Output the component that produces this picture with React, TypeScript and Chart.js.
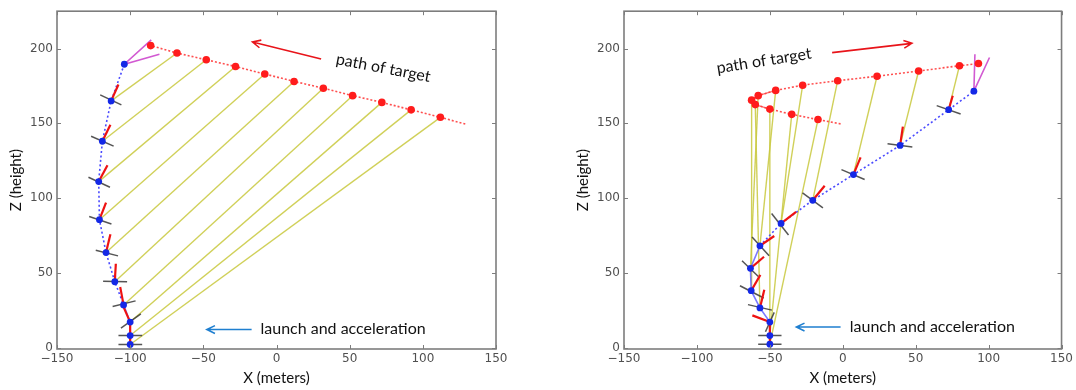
import React, { useEffect, useRef } from "react";
import { Chart, registerables } from "chart.js";
Chart.register(...registerables);

// ---------- shared axes ----------
const X_TICKS = [-150, -100, -50, 0, 50, 100, 150];
const X_TICK_LABELS = ["\u2212150", "\u2212100", "\u221250", "0", "50", "100", "150"];
const Z_TICKS = [0, 50, 100, 150, 200];
const Z_TICK_LABELS = ["0", "50", "100", "150", "200"];
const X_TITLE = "X (meters)";
const Z_TITLE = "Z (height)";

// ---------- left panel ----------
const L_TARGET_X = [-86, -68, -48, -28, -8, 12, 32, 52, 72, 92, 112];
const L_TARGET_Z = [202, 197, 192.5, 188, 183, 178, 173.5, 168.5, 164, 159, 154];
const L_PATH_TAIL_X = [129];
const L_PATH_TAIL_Z = [149.5];
const L_DRONE_X = [-104, -113, -119, -121.5, -121, -116.5, -110.5, -104.5, -100, -100, -100];
const L_DRONE_Z = [189.5, 165, 138, 111, 85.5, 63.5, 44, 28.5, 17, 8, 2];
const L_STICK_DX = [null, 5, 5.5, 6, 4.5, 3, 0.7, -2.3, -4.5, 0, 0];
const L_STICK_DZ = [null, 11, 11, 11, 11.5, 12.2, 12, 12, 10, 9, 6];
const L_BAR_A_DX = [null, -7.5, -7.7, -7, -7, -7, -8, -7.5, -6.3, -8, -8];
const L_BAR_A_DZ = [null, 4, 3.3, 2.9, 2.2, 1.6, 0.4, -1.1, -4, 0, 0];
const L_BAR_B_DX = [null, 7, 7.7, 7.7, 8.2, 8.2, 8.4, 8.2, 7.3, 8.2, 8.2];
const L_BAR_B_DZ = [null, -2.7, -3.3, -3.8, -2.9, -2.2, 0, 2.7, 5.5, 0, 0];
const L_DOTTED_DRONES = [0, 1, 2, 3, 4, 5, 6, 7];
const L_SOLID_DRONES = [7, 8, 9, 10];
const L_YELLOW_PAIRS = [1, 2, 3, 4, 5, 6, 7, 8, 9, 10];
const L_SOLID_TARGETS: number[] = [];
const L_MAGENTA_X = [-85.6, -104, -80];
const L_MAGENTA_Z = [205.8, 189.5, 196.2];

// ---------- right panel ----------
const R_TARGET_X = [-17, -35, -50, -60, -62.5, -58, -46, -27.5, -3.5, 23.5, 52, 80, 93];
const R_TARGET_Z = [152.5, 156, 159.5, 162.5, 165.5, 168.5, 172, 175.5, 178.5, 181.5, 185, 188.5, 190];
const R_PATH_TAIL_X = [-1.5];
const R_PATH_TAIL_Z = [149.6];
const R_DRONE_X = [-50, -50, -50, -56.8, -62.8, -63.3, -56.8, -42.3, -20.6, 7.3, 39.3, 72.6, 89.9];
const R_DRONE_Z = [2.2, 8, 17, 26.5, 38, 53, 68, 83, 98.5, 115.7, 135.2, 159.1, 171.5];
const R_STICK_DX = [0, 0, -12, 3, 6.3, 9.3, 9.8, 10.3, 8.2, 4.9, 1.9, 2.8, null];
const R_STICK_DZ = [6, 9, 4.5, 12.2, 10.6, 7.7, 6.6, 7.7, 9.7, 11.5, 12.6, 9.3, null];
const R_BAR_A_DX = [-8, -8, -3, -8.2, -7.7, -5.8, -5.4, -6.5, -7, -8.2, -8.6, -8.2, null];
const R_BAR_A_DZ = [0, 0, -6.5, 2.2, 3.3, 5.1, 6, 6.6, 4.9, 3.3, 1.1, 2.7, null];
const R_BAR_B_DX = [8, 8, 3, 8.2, 8.6, 5.4, 6.3, 5.1, 7, 7.7, 8.4, 8.2, null];
const R_BAR_B_DZ = [0, 0, 6.5, -1.5, -4.9, -5.5, -6.6, -7.7, -5.1, -3.3, -1.1, -2.9, null];
const R_SOLID_DRONES = [0, 1, 2, 3, 4, 5, 6];
const R_DOTTED_DRONES = [6, 7, 8, 9, 10, 11, 12];
const R_YELLOW_PAIRS = [0, 1, 2, 3, 4, 5, 6, 7, 8, 9, 10, 11];
const R_SOLID_TARGETS = [2, 3, 4, 5, 6];
const R_MAGENTA_X = [90.6, 89.9, 100.6];
const R_MAGENTA_Z = [196.2, 171.5, 194];

// ---------- annotations (data coordinates) ----------
const NOTE_PATH = "path of target";
const NOTE_LAUNCH = "launch and acceleration";
const L_NOTES = [
  { text: NOTE_PATH, x: 73, z: 187, rot: 11 },
  { text: NOTE_LAUNCH, x: 45.5, z: 12.2, rot: 0 },
];
const L_ARROWS = [
  { x1: 30.5, z1: 193, x2: -16.4, z2: 204.4, color: "#e8141a" },
  { x1: -17, z1: 12, x2: -47.6, z2: 12, color: "#1f7fd0" },
];
const R_NOTES = [
  { text: NOTE_PATH, x: -54, z: 191.8, rot: -9 },
  { text: NOTE_LAUNCH, x: 61.4, z: 13.7, rot: 0 },
];
const R_ARROWS = [
  { x1: -7.3, z1: 197.3, x2: 47.4, z2: 203.5, color: "#e8141a" },
  { x1: -1.5, z1: 13.7, x2: -31.8, z2: 13.7, color: "#1f7fd0" },
];

// ---------- styles ----------
const C_TARGET = "#ff1c1c";
const C_DRONE = "#1428e6";
const C_YELLOW = "rgba(200,200,60,0.85)";
const C_STICK = "#ee1212";
const C_BAR = "rgba(55,55,55,0.85)";
const C_MAGENTA = "#d25ad2";
const C_BLUE_LINE = "#4a4aff";
const C_RED_PATH = "rgba(255,60,60,0.9)";
const NOTE_FONT = "16px Lato";
const TICK_FONT_FAMILY = "DejaVu Sans";

const pt = (x: number, y: number) => ({ x, y });

function lineDs(data: any[], color: string, width: number, dash: number[], order: number) {
  return {
    data,
    showLine: true,
    borderColor: color,
    borderWidth: width,
    borderDash: dash,
    pointRadius: 0,
    pointHoverRadius: 0,
    fill: false,
    tension: 0,
    order,
  };
}

function pointDs(data: any[], color: string, r: number, order: number) {
  return {
    data,
    showLine: false,
    pointRadius: r,
    pointHoverRadius: r,
    backgroundColor: color,
    borderColor: color,
    borderWidth: 0,
    order,
  };
}

function buildDatasets(p: any) {
  const ds: any[] = [];
  // yellow sight lines
  p.yellow.forEach((i: number) => {
    ds.push(lineDs([pt(p.dx[i], p.dz[i]), pt(p.tx[i], p.tz[i])], C_YELLOW, 1.4, [], 6));
  });
  // target path (dotted red)
  const path = [pt(p.tailX[0], p.tailZ[0])];
  if (p.tailFirstIsStart) {
    p.tx.forEach((x: number, i: number) => path.push(pt(x, p.tz[i])));
  } else {
    for (let i = p.tx.length - 1; i >= 0; i--) path.push(pt(p.tx[i], p.tz[i]));
  }
  ds.push(lineDs(path, C_RED_PATH, 1.6, [2, 2], 5));
  if (p.solidTargets.length) {
    ds.push(lineDs(p.solidTargets.map((i: number) => pt(p.tx[i], p.tz[i])), "rgba(255,70,70,0.75)", 1.4, [], 5));
  }
  // drone path
  ds.push(lineDs(p.dotted.map((i: number) => pt(p.dx[i], p.dz[i])), C_BLUE_LINE, 1.6, [2, 2.5], 4));
  ds.push(lineDs(p.solid.map((i: number) => pt(p.dx[i], p.dz[i])), "rgba(90,90,255,0.8)", 1.6, [], 4));
  // rotor bars
  p.dx.forEach((x: number, i: number) => {
    if (p.bax[i] == null) return;
    ds.push(lineDs([pt(x + p.bax[i], p.dz[i] + p.baz[i]), pt(x + p.bbx[i], p.dz[i] + p.bbz[i])], C_BAR, 1.5, [], 3));
  });
  // heading sticks
  p.dx.forEach((x: number, i: number) => {
    if (p.sx[i] == null) return;
    ds.push(lineDs([pt(x, p.dz[i]), pt(x + p.sx[i], p.dz[i] + p.sz[i])], C_STICK, 2.2, [], 2));
  });
  // magenta
  ds.push(lineDs(p.mx.map((x: number, i: number) => pt(x, p.mz[i])), C_MAGENTA, 1.6, [], 2));
  // points
  ds.push(pointDs(p.tx.map((x: number, i: number) => pt(x, p.tz[i])), C_TARGET, 3.8, 1));
  ds.push(pointDs(p.dx.map((x: number, i: number) => pt(x, p.dz[i])), C_DRONE, 3.4, 0));
  return ds;
}

const decoPlugin = {
  id: "deco",
  afterDatasetsDraw(chart: any, _args: any, opts: any) {
    const { ctx, chartArea: a, scales } = chart;
    const xs = scales.x;
    const ys = scales.y;
    ctx.save();
    // frame
    ctx.strokeStyle = "#7d7d7d";
    ctx.lineWidth = 1.6;
    ctx.strokeRect(a.left, a.top, a.right - a.left, a.bottom - a.top);
    ctx.lineWidth = 1;
    ctx.beginPath();
    X_TICKS.forEach((v) => {
      const px = Math.round(xs.getPixelForValue(v)) + 0.5;
      ctx.moveTo(px, a.bottom);
      ctx.lineTo(px, a.bottom - 4);
      ctx.moveTo(px, a.top);
      ctx.lineTo(px, a.top + 4);
    });
    Z_TICKS.forEach((v) => {
      const py = Math.round(ys.getPixelForValue(v)) + 0.5;
      ctx.moveTo(a.left, py);
      ctx.lineTo(a.left + 4, py);
      ctx.moveTo(a.right, py);
      ctx.lineTo(a.right - 4, py);
    });
    ctx.stroke();

    // axis titles
    ctx.fillStyle = "#111";
    ctx.font = "15px Lato";
    ctx.textAlign = "center";
    ctx.textBaseline = "middle";
    ctx.fillText(X_TITLE, (a.left + a.right) / 2, a.bottom + 29);
    ctx.save();
    ctx.translate(a.left - 41, (a.top + a.bottom) / 2);
    ctx.rotate(-Math.PI / 2);
    ctx.fillText(Z_TITLE, 0, 0);
    ctx.restore();

    // notes
    ctx.font = NOTE_FONT;
    (opts.notes || []).forEach((n: any) => {
      ctx.save();
      ctx.translate(xs.getPixelForValue(n.x), ys.getPixelForValue(n.z));
      ctx.rotate((n.rot * Math.PI) / 180);
      ctx.fillStyle = "#111";
      ctx.fillText(n.text, 0, 0);
      ctx.restore();
    });
    // arrows
    (opts.arrows || []).forEach((ar: any) => {
      const x1 = xs.getPixelForValue(ar.x1);
      const y1 = ys.getPixelForValue(ar.z1);
      const x2 = xs.getPixelForValue(ar.x2);
      const y2 = ys.getPixelForValue(ar.z2);
      const ang = Math.atan2(y2 - y1, x2 - x1);
      ctx.strokeStyle = ar.color;
      ctx.lineWidth = 1.6;
      ctx.beginPath();
      ctx.moveTo(x1, y1);
      ctx.lineTo(x2, y2);
      const hl = 9;
      const ha = 0.45;
      ctx.moveTo(x2 - hl * Math.cos(ang - ha), y2 - hl * Math.sin(ang - ha));
      ctx.lineTo(x2, y2);
      ctx.lineTo(x2 - hl * Math.cos(ang + ha), y2 - hl * Math.sin(ang + ha));
      ctx.stroke();
    });
    ctx.restore();
  },
};

function makeConfig(p: any, yWidth: number, padRight: number) {
  return {
    type: "scatter",
    data: { datasets: buildDatasets(p) },
    options: {
      responsive: false,
      animation: false,
      devicePixelRatio: 1,
      events: [],
      layout: { padding: { left: 0, right: padRight, top: 9, bottom: 0 } },
      plugins: {
        legend: { display: false },
        tooltip: { enabled: false },
        deco: { notes: p.notes, arrows: p.arrows },
      },
      scales: {
        x: {
          type: "linear",
          min: -150,
          max: 150,
          afterBuildTicks: (s: any) => {
            s.ticks = X_TICKS.map((v) => ({ value: v }));
          },
          afterFit: (s: any) => {
            s.height = 41;
          },
          grid: { display: false, drawTicks: false },
          border: { display: false },
          ticks: {
            autoSkip: false,
            maxRotation: 0,
            padding: 3,
            color: "#505050",
            font: { family: TICK_FONT_FAMILY, size: 12 },
            callback: (_v: any, i: number) => X_TICK_LABELS[i],
          },
        },
        y: {
          type: "linear",
          min: -1,
          max: 225,
          afterBuildTicks: (s: any) => {
            s.ticks = Z_TICKS.map((v) => ({ value: v }));
          },
          afterFit: (s: any) => {
            s.width = yWidth;
          },
          grid: { display: false, drawTicks: false },
          border: { display: false },
          ticks: {
            autoSkip: false,
            padding: 4,
            color: "#505050",
            font: { family: TICK_FONT_FAMILY, size: 12 },
            callback: (_v: any, i: number) => Z_TICK_LABELS[i],
          },
        },
      },
    },
    plugins: [decoPlugin],
  };
}

const LEFT = {
  tx: L_TARGET_X, tz: L_TARGET_Z, tailX: L_PATH_TAIL_X, tailZ: L_PATH_TAIL_Z, tailFirstIsStart: false,
  dx: L_DRONE_X, dz: L_DRONE_Z, sx: L_STICK_DX, sz: L_STICK_DZ,
  bax: L_BAR_A_DX, baz: L_BAR_A_DZ, bbx: L_BAR_B_DX, bbz: L_BAR_B_DZ,
  dotted: L_DOTTED_DRONES, solid: L_SOLID_DRONES, yellow: L_YELLOW_PAIRS, solidTargets: L_SOLID_TARGETS,
  mx: L_MAGENTA_X, mz: L_MAGENTA_Z, notes: L_NOTES, arrows: L_ARROWS,
};
const RIGHT = {
  tx: R_TARGET_X, tz: R_TARGET_Z, tailX: R_PATH_TAIL_X, tailZ: R_PATH_TAIL_Z, tailFirstIsStart: true,
  dx: R_DRONE_X, dz: R_DRONE_Z, sx: R_STICK_DX, sz: R_STICK_DZ,
  bax: R_BAR_A_DX, baz: R_BAR_A_DZ, bbx: R_BAR_B_DX, bbz: R_BAR_B_DZ,
  dotted: R_DOTTED_DRONES, solid: R_SOLID_DRONES, yellow: R_YELLOW_PAIRS, solidTargets: R_SOLID_TARGETS,
  mx: R_MAGENTA_X, mz: R_MAGENTA_Z, notes: R_NOTES, arrows: R_ARROWS,
};

function Panel({ left, width, cfg }: { left: number; width: number; cfg: () => any }) {
  const ref = useRef<HTMLCanvasElement>(null);
  useEffect(() => {
    const chart = new Chart(ref.current as HTMLCanvasElement, cfg() as any);
    return () => chart.destroy();
  }, []);
  return (
    <div style={{ position: "absolute", left, top: 0, width, height: 390 }}>
      <canvas ref={ref} width={width} height={390} style={{ display: "block", width, height: 390 }} />
    </div>
  );
}

export default function App() {
  return (
    <div style={{ position: "fixed", left: 0, top: 0, width: 1076, height: 390, background: "#fff", overflow: "hidden" }}>
      <Panel left={0} width={540} cfg={() => makeConfig(LEFT, 57, 44)} />
      <Panel left={540} width={536} cfg={() => makeConfig(RIGHT, 84, 13)} />
    </div>
  );
}
